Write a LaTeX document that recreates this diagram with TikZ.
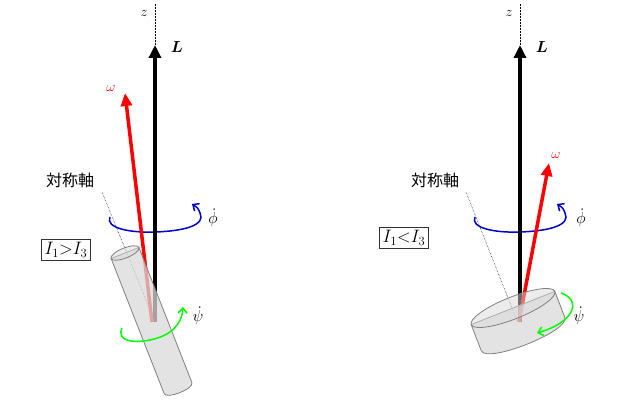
\RequirePackage{fix-cm}
\documentclass[tikz,border=0pt]{standalone}
\usepackage{amsmath,bm}
\usepackage{fontspec}
\newfontfamily\cjk{Noto Sans CJK JP}
\usetikzlibrary{arrows.meta}
\begin{document}
\begin{tikzpicture}[x=1pt,y=-1pt,
  zax/.style={densely dotted,line width=0.5pt},
  Larrow/.style={line width=4.5pt,-{Triangle[length=13pt,width=12pt]}},
  warrow/.style={red,line width=3.5pt,-{Triangle[length=13pt,width=11pt]}},
  symax/.style={densely dotted,line width=0.5pt},
  phiarc/.style={blue!80!black,line width=1.5pt,-{Straight Barb[length=5pt,width=9pt]}},
  psiarc/.style={green,line width=1.5pt,-{Straight Barb[length=5pt,width=9pt]}},
  body/.style={draw=gray,fill=gray!30,fill opacity=0.75,line width=0.8pt},
  lab/.style={inner sep=1pt,font=\fontsize{16}{18}\selectfont},
  slab/.style={inner sep=1pt,font=\fontsize{14}{16}\selectfont},
  jlab/.style={inner sep=1pt,font=\fontsize{16}{18}\selectfont\cjk},
  ibox/.style={draw=black!80,line width=1pt,inner sep=3pt,font=\fontsize{18}{20}\selectfont}]
\useasboundingbox (0,0) rectangle (641,403);
% ---------- left ----------
\coordinate (Lb) at (155,322); \coordinate (Lt) at (155,45); \coordinate (Lz) at (155,4);
\coordinate (Wt) at (125,93);
\coordinate (Sa) at (102,192);
\draw[zax] (Lz) -- (Lt);
\node[slab] (zl) at (144,13) {$z$};
\draw[symax] (Sa) -- (Lb);
\node[jlab] (sl) at (70,180) {対称軸};
\node[ibox] (bl) at (66,250) {$I_1{>}I_3$};
\draw[phiarc] (110,217) .. controls (105,228) and (130,233) .. (155,232) .. controls (185,231) and (206,225) .. (200,213) .. controls (198,208) .. (192,204);
\node[lab] (pl) at (213,218) {$\dot\phi$};
\draw[Larrow] (Lb) -- (Lt);
\node[lab] (Ll) at (177,47) {$\bm{L}$};
\draw[warrow] (152,322) -- (Wt);
\node[slab,red] (wl) at (111,88) {$\omega$};
\path[body] (138.9,247.5) -- (191.9,382.5)
  .. controls (194.4,388.7) and (166.6,399.7) .. (164.1,393.5)
  -- (111.1,258.5) -- cycle;
\draw[body,fill opacity=0.5] (125,253) ellipse[x radius=15,y radius=5,rotate=21.7];
\draw[psiarc] (122,328) .. controls (116,342) and (135,343) .. (150,340) .. controls (170,336) and (182,325) .. (183,307);
\node[lab] (sl2) at (198,316) {$\dot\psi$};
% ---------- right ----------
\coordinate (Rb) at (520,322); \coordinate (Rt) at (520,45); \coordinate (Rz) at (520,4);
\coordinate (RWt) at (549,163);
\coordinate (RSa) at (466,192);
\draw[zax] (Rz) -- (Rt);
\node[slab] (zr) at (509,13) {$z$};
\draw[symax] (RSa) -- (518,323);
\node[jlab] (sr) at (435,180) {対称軸};
\node[ibox] (br) at (404,238) {$I_1{<}I_3$};
\begin{scope}[xshift=365pt]
\draw[phiarc] (110,217) .. controls (105,228) and (130,233) .. (155,232) .. controls (185,231) and (206,225) .. (200,213) .. controls (198,208) .. (192,204);
\end{scope}
\node[lab] (pr) at (581,218) {$\dot\phi$};
\draw[Larrow] (Rb) -- (Rt);
\node[lab] (Lr) at (542,47) {$\bm{L}$};
\draw[warrow] (519,322) -- (RWt);
\node[slab,red] (wr) at (556,155) {$\omega$};
\path[body] (554.8,291.4) -- (564.8,317.4)
  .. controls (570.2,331) and (486.6,364.2) .. (481.2,350.6)
  -- (471.2,324.6) -- cycle;
\draw[body,fill opacity=0.5] (513,308) ellipse[x radius=45,y radius=11,rotate=21.7];
\draw[psiarc] (561,293) .. controls (582,300) and (575,322) .. (537,333);
\node[lab] (sr2) at (579,316) {$\dot\psi$};
\end{tikzpicture}
\end{document}
